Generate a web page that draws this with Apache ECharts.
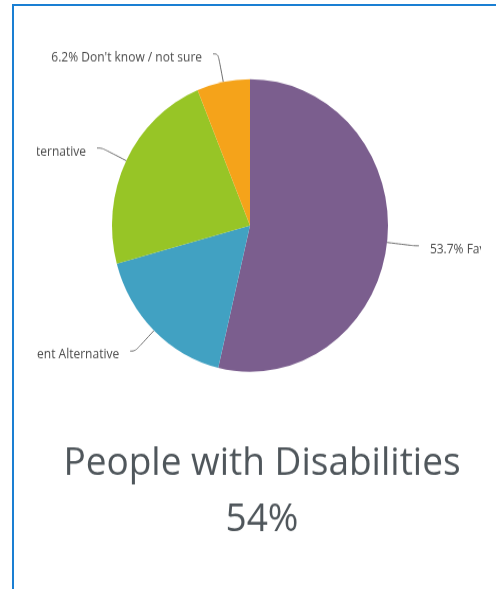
<!DOCTYPE html>
<html>
<head>
<meta charset="utf-8">
<script src="https://cdn.jsdelivr.net/npm/echarts@6/dist/echarts.min.js"></script>
<style>
  html, body { margin: 0; padding: 0; background: #fff; width: 496px; height: 589px; overflow: hidden; }
  #frame { position: absolute; left: 12px; top: 4px; width: 490px; height: 600px;
           border-left: 2px solid #1a7fd3; border-top: 2px solid #1a7fd3; box-sizing: border-box; }
  #clip { position: absolute; left: 37px; top: 0; width: 444px; height: 589px; overflow: hidden; }
  #chart { position: absolute; left: -200px; top: 0; width: 844px; height: 556px;
           transform: scaleY(1.06); transform-origin: 0 0; }
</style>
</head>
<body>
<div id="frame"></div>
<div id="clip"><div id="chart"></div></div>
<script>
const categories = ['Favor', 'Different Alternative', 'Other Alternative', "Don't know / not sure"];
const values = [53.7, 17.1, 23.0, 6.2];
const sliceColors = ['#7b5e8e', '#41a1c2', '#97c526', '#f5a31a'];
const titleLine = 'People with Disabilities';
const headlineValue = '54%';

const chart = echarts.init(document.getElementById('chart'), null, { renderer: 'canvas' });
const font = '"Open Sans", "Noto Sans", sans-serif';
chart.setOption({
  animation: false,
  title: [
    { text: titleLine, left: 420, top: 414, textAlign: 'center',
      textStyle: { fontFamily: font, fontSize: 37, fontWeight: 'normal', color: '#4f565b' } },
    { text: headlineValue, left: 420, top: 467, textAlign: 'center',
      textStyle: { fontFamily: font, fontSize: 37, fontWeight: 'normal', color: '#4f565b' } }
  ],
  series: [{
    type: 'pie',
    center: [413, 212.7],
    radius: 138,
    startAngle: 90,
    clockwise: true,
    avoidLabelOverlap: false,
    data: categories.map((c, i) => ({ name: c, value: values[i], itemStyle: { color: sliceColors[i] } })),
    label: {
      show: true,
      formatter: p => p.value.toFixed(1) + '% ' + p.name,
      fontFamily: font,
      fontSize: 12,
      color: '#4a4a4a',
      offset: [0, 3.5],
      distanceToLabelLine: 11
    },
    labelLine: {
      show: true,
      length: 27,
      length2: 5,
      smooth: 0.4,
      lineStyle: { color: '#6e6e6e', width: 1 }
    },
    itemStyle: { borderWidth: 0 }
  }]
});
</script>
</body>
</html>
